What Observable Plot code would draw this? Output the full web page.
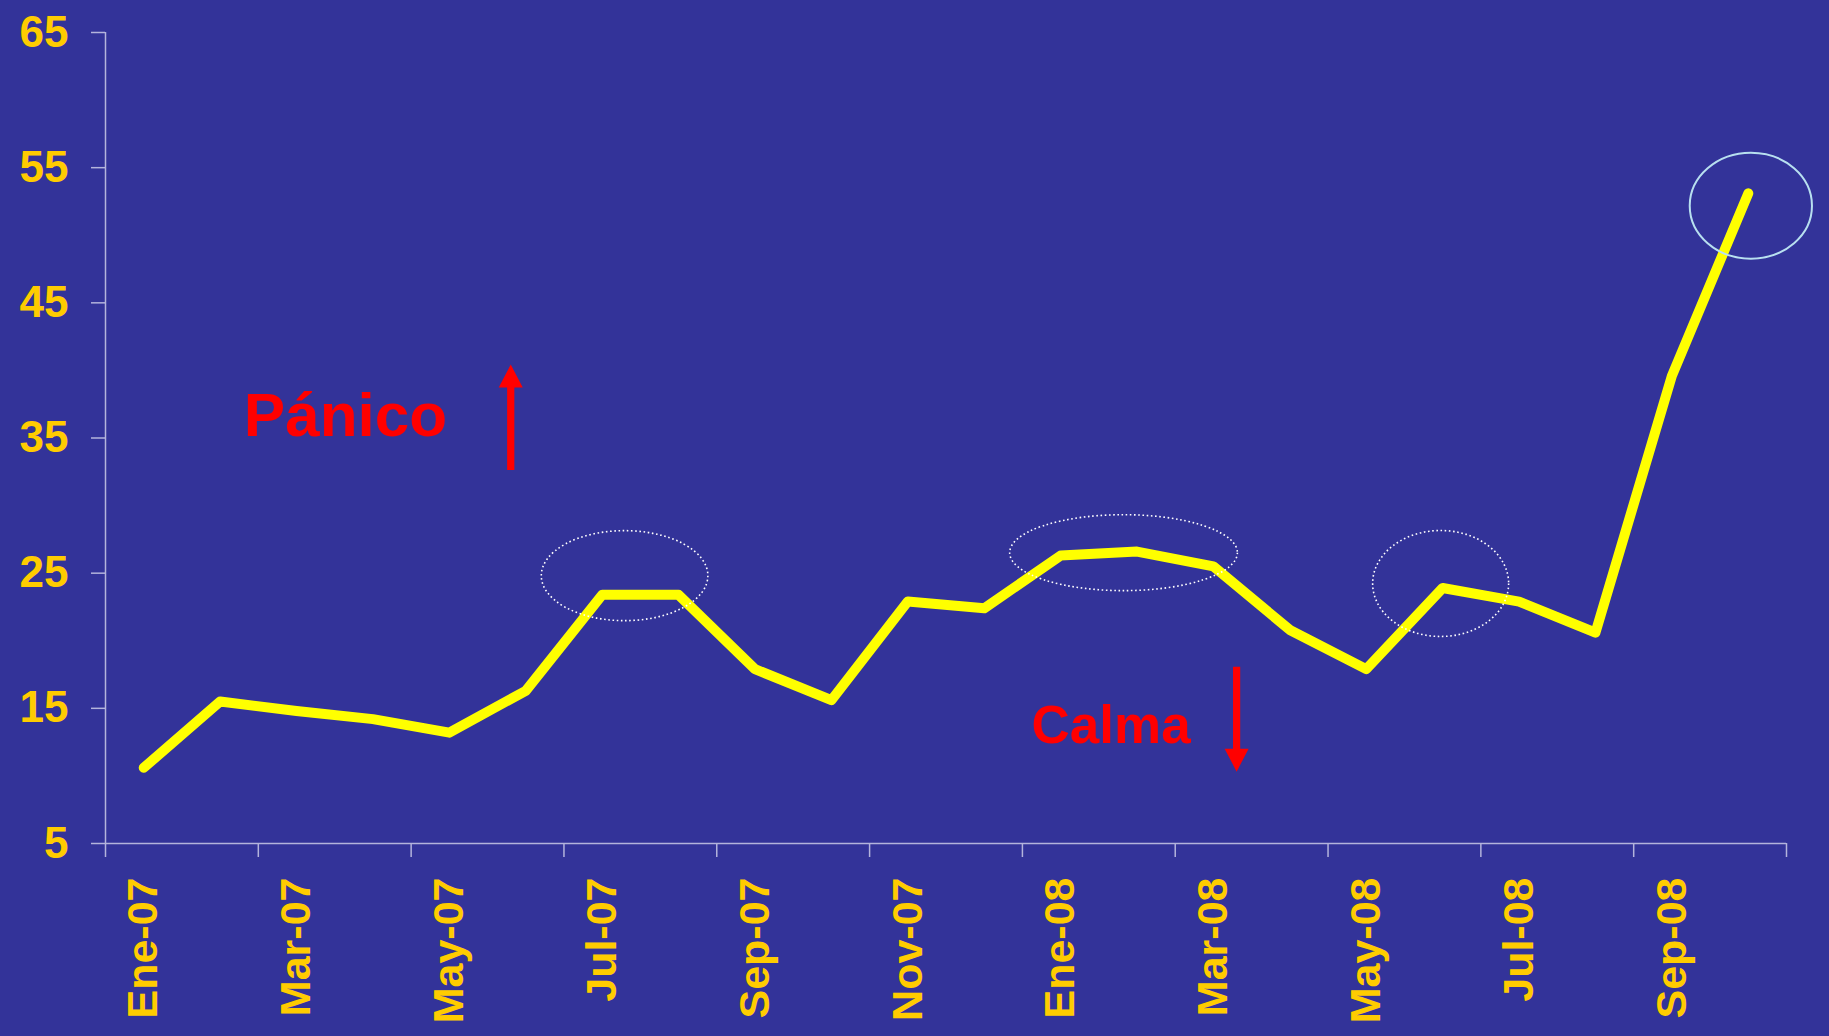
<!DOCTYPE html>
<html>
<head>
<meta charset="utf-8">
<script src="https://cdn.jsdelivr.net/npm/d3@7"></script>
<script src="https://cdn.jsdelivr.net/npm/@observablehq/plot@0.6"></script>
<style>
  html, body { margin: 0; padding: 0; background: #333399; overflow: hidden; }
  #chart svg { display: block; }
</style>
</head>
<body>
<div id="chart"></div>
<script>
// ---- data ----
const months = ["Ene-07","Feb-07","Mar-07","Abr-07","May-07","Jun-07","Jul-07","Ago-07","Sep-07","Oct-07","Nov-07","Dic-07",
                "Ene-08","Feb-08","Mar-08","Abr-08","May-08","Jun-08","Jul-08","Ago-08","Sep-08","Oct-08"];
const values = [10.6, 15.5, 14.8, 14.2, 13.2, 16.3, 23.4, 23.4, 17.9, 15.6, 22.9, 22.4,
                26.3, 26.6, 25.5, 20.8, 17.9, 23.9, 22.9, 20.6, 39.6, 53.1];
const labelIndex = [0, 2, 4, 6, 8, 10, 12, 14, 16, 18, 20];          // months shown as tick labels
const bandEdges = [-0.5, 1.5, 3.5, 5.5, 7.5, 9.5, 11.5, 13.5, 15.5, 17.5, 19.5, 21.5]; // tick marks
const yTicks = [5, 15, 25, 35, 45, 55, 65];

// annotations (data units: month index, index value)
const annotText = ["Pánico", "Calma"];
const annotX = [1.31, 11.62];
const annotY = [36.6, 13.7];
const arrowX = [4.81, 14.31];
const arrowFrom = [32.6, 18.04];
const arrowTo = [40.4, 10.28];
const ringX = [6.30, 12.83, 16.98, 21.04];
const ringY = [24.78, 26.48, 24.2, 52.15];
const ringRX = [1.09, 1.49, 0.89, 0.80];
const ringRY = [3.33, 2.81, 3.92, 3.92];
const ringSolid = [false, false, false, true];

// ---- styles ----
const BG = "#333399";
const AXIS = "#B4B4DC";
const GOLD = "#FFCC00";
const LINE = "#FFFF00";
const RED = "#FF0000";
const FONT = "'Liberation Sans', Arial, Helvetica, sans-serif";

const idx = months.map((_, i) => i);

const svg = Plot.plot({
  width: 1829,
  height: 1036,
  marginLeft: 105,
  marginRight: 43,
  marginTop: 32,
  marginBottom: 193,
  style: { background: BG, fontFamily: FONT, overflow: "visible" },
  x: { type: "linear", domain: [-0.5, 21.5] },
  y: { domain: [5, 65] },
  marks: [
    Plot.ruleY([5], { stroke: AXIS, strokeWidth: 1.5 }),
    Plot.ruleX([-0.5], { stroke: AXIS, strokeWidth: 1.5 }),
    Plot.axisY(yTicks, {
      tickSize: 14, tickPadding: 23, stroke: AXIS, strokeWidth: 1.5,
      fill: GOLD, fontSize: 44, fontWeight: "bold", label: null
    }),
    Plot.axisX(bandEdges, {
      tickSize: 14, stroke: AXIS, strokeWidth: 1.5, tickFormat: () => "", label: null
    }),
    Plot.axisX(labelIndex, {
      tickSize: 0, tickPadding: 34, tickRotate: -90, tickFormat: i => months[i],
      fill: GOLD, fontSize: 43, fontWeight: "bold", label: null
    }),
    Plot.line(idx, {
      x: i => i, y: i => values[i], stroke: LINE, strokeWidth: 10,
      strokeLinejoin: "round", strokeLinecap: "round"
    }),
    Plot.text([0], {
      x: i => annotX[i], y: i => annotY[i], text: i => annotText[i],
      fill: RED, fontSize: 62, fontWeight: "bold", textAnchor: "start"
    }),
    Plot.text([1], {
      x: i => annotX[i], y: i => annotY[i], text: i => annotText[i],
      fill: RED, fontSize: 53, fontWeight: "bold", textAnchor: "start"
    })
  ]
});

// arrows and highlight rings positioned through the plot's own scales
const sx = svg.scale("x"), sy = svg.scale("y");
const g = d3.select(svg).append("g");

arrowX.forEach((ax, i) => {
  const X = sx.apply(ax), Y0 = sy.apply(arrowFrom[i]), Yt = sy.apply(arrowTo[i]);
  const dir = Math.sign(Yt - Y0);
  const headLen = 23, headHalf = 12, shaftHalf = 3.6;
  const Yb = Yt - dir * headLen;
  const pts = [[X - shaftHalf, Y0], [X - shaftHalf, Yb], [X - headHalf, Yb], [X, Yt],
               [X + headHalf, Yb], [X + shaftHalf, Yb], [X + shaftHalf, Y0]];
  g.append("path").attr("d", "M" + pts.map(p => p.join(",")).join("L") + "Z").attr("fill", RED);
});

ringX.forEach((cx, i) => {
  const CX = sx.apply(cx), CY = sy.apply(ringY[i]);
  const RX = Math.abs(sx.apply(cx + ringRX[i]) - CX);
  const RY = Math.abs(sy.apply(ringY[i] + ringRY[i]) - CY);
  const e = g.append("ellipse").attr("cx", CX).attr("cy", CY).attr("rx", RX).attr("ry", RY)
    .attr("fill", "none");
  if (ringSolid[i]) {
    e.attr("stroke", "#B8E0F0").attr("stroke-width", 2);
  } else {
    e.attr("stroke", "#FFFFFF").attr("stroke-width", 1.6).attr("stroke-dasharray", "1.6,2.6");
  }
});

document.getElementById("chart").appendChild(svg);
</script>
</body>
</html>
